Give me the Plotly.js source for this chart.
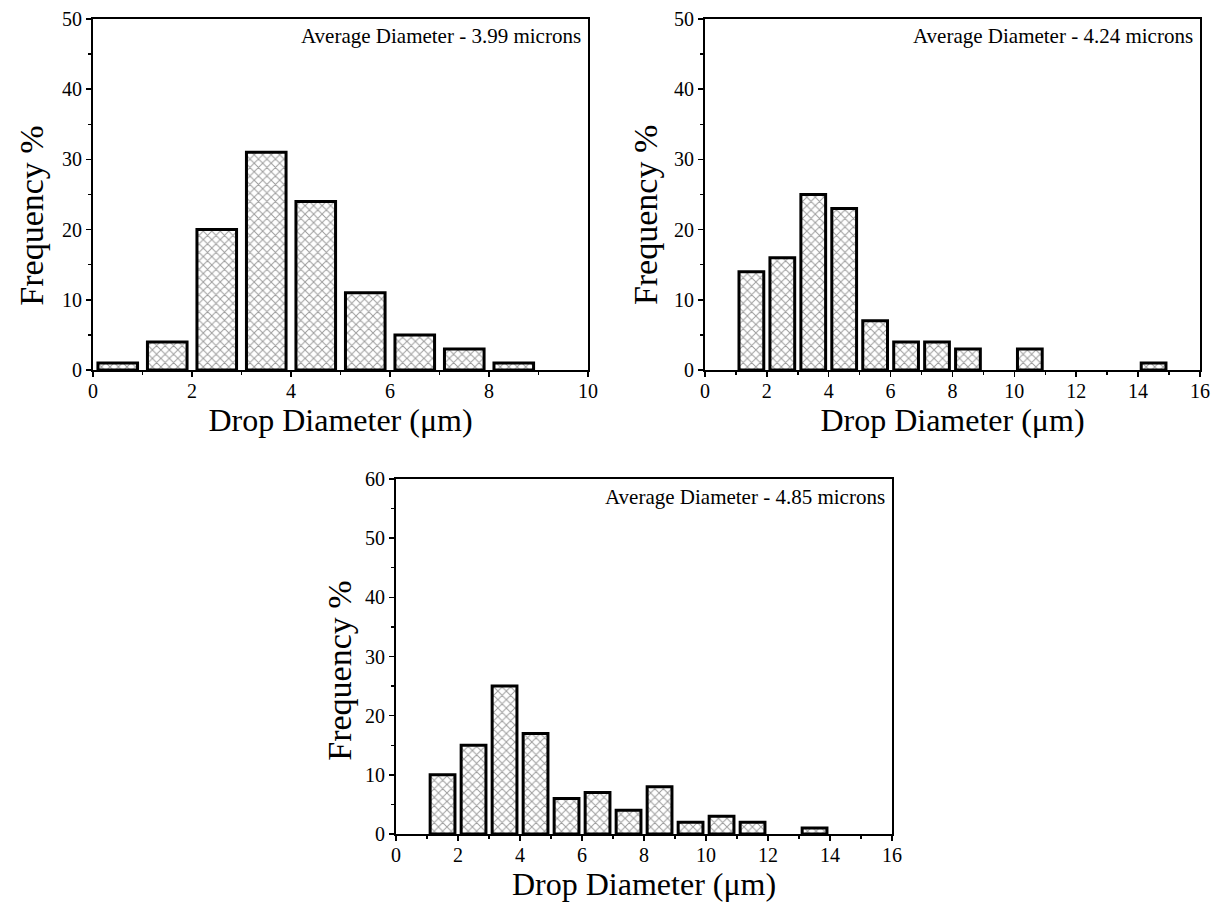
<!DOCTYPE html>
<html>
<head>
<meta charset="utf-8">
<script src="https://cdn.plot.ly/plotly-3.0.1.min.js"></script>
<style>html,body{margin:0;padding:0;background:#fff;}#chart{width:1222px;height:912px;}</style>
</head>
<body>
<div id="chart"></div>
<script>
// Panel A (top-left)
const binsA = [0.5, 1.5, 2.5, 3.5, 4.5, 5.5, 6.5, 7.5, 8.5];
const freqA = [1, 4, 20, 31, 24, 11, 5, 3, 1];
const labelA = "Average Diameter - 3.99 microns";
// Panel B (top-right)
const binsB = [1.5, 2.5, 3.5, 4.5, 5.5, 6.5, 7.5, 8.5, 10.5, 14.5];
const freqB = [14, 16, 25, 23, 7, 4, 4, 3, 3, 1];
const labelB = "Average Diameter - 4.24 microns";
// Panel C (bottom)
const binsC = [1.5, 2.5, 3.5, 4.5, 5.5, 6.5, 7.5, 8.5, 9.5, 10.5, 11.5, 13.5];
const freqC = [10, 15, 25, 17, 6, 7, 4, 8, 2, 3, 2, 1];
const labelC = "Average Diameter - 4.85 microns";

const xTitle = "Drop Diameter (μm)";
const yTitle = "Frequency %";

const FONT = "Liberation Serif, Times New Roman, serif";

function barTrace(x, y, xa, ya) {
  return {
    type: 'bar', x: x, y: y, xaxis: xa, yaxis: ya, width: 0.8,
    marker: {
      color: '#ffffff',
      line: {color: '#000', width: 3},
      pattern: {shape: 'x', fgcolor: '#3a3a3a', bgcolor: '#fff', size: 6, solidity: 0.3, fillmode: 'overlay'}
    },
    showlegend: false, hoverinfo: 'x+y'
  };
}

function xAxis(domain, range, anchor) {
  return {
    domain: domain, range: range, anchor: anchor,
    dtick: 2, tick0: 0, ticks: 'outside', ticklen: 5, tickwidth: 1.5, tickcolor: '#000',
    minor: {dtick: 1, ticks: 'outside', ticklen: 3, tickwidth: 1.5, tickcolor: '#000'},
    showline: true, linewidth: 2, linecolor: '#000', mirror: true,
    showgrid: false, zeroline: false, ticklabelstandoff: -3,
    tickfont: {family: FONT, size: 20, color: '#000'},
    title: {text: xTitle, font: {family: FONT, size: 32, color: '#000'}, standoff: 6}
  };
}
function yAxis(domain, range, anchor) {
  return {
    domain: domain, range: range, anchor: anchor,
    dtick: 10, tick0: 0, ticks: 'outside', ticklen: 5, tickwidth: 1.5, tickcolor: '#000',
    minor: {dtick: 5, ticks: 'outside', ticklen: 3, tickwidth: 1.5, tickcolor: '#000'},
    showline: true, linewidth: 2, linecolor: '#000', mirror: true,
    showgrid: false, zeroline: false,
    tickfont: {family: FONT, size: 20, color: '#000'}
  };
}

const data = [
  barTrace(binsA, freqA, 'x', 'y'),
  barTrace(binsB, freqB, 'x2', 'y2'),
  barTrace(binsC, freqC, 'x3', 'y3')
];

function note(text, xref, yref) {
  return {text: text, xref: xref + ' domain', yref: yref + ' domain', x: 0.99, y: 0.99,
    xanchor: 'right', yanchor: 'top', showarrow: false,
    font: {family: FONT, size: 21, color: '#000'}};
}
function ytitle(xref, yref, xpos, ypos) {
  return {text: yTitle, xref: xref + ' domain', yref: yref + ' domain', x: xpos, y: ypos,
    xanchor: 'center', yanchor: 'middle', textangle: -90, showarrow: false,
    font: {family: FONT, size: 34, color: '#000'}};
}

const layout = {
  width: 1222, height: 912,
  margin: {l: 0, r: 0, t: 0, b: 0},
  paper_bgcolor: '#fff', plot_bgcolor: '#fff',
  bargap: 0,
  xaxis: xAxis([0.0761, 0.4812], [0, 10], 'y'),
  yaxis: yAxis([0.5943, 0.9792], [0, 50], 'x'),
  xaxis2: xAxis([0.5769, 0.9820], [0, 16], 'y2'),
  yaxis2: yAxis([0.5943, 0.9792], [0, 50], 'x2'),
  xaxis3: xAxis([0.3241, 0.7300], [0, 16], 'y3'),
  yaxis3: yAxis([0.0855, 0.4748], [0, 60], 'x3'),
  annotations: [
    note(labelA, 'x', 'y'), note(labelB, 'x2', 'y2'), note(labelC, 'x3', 'y3'),
    ytitle('x', 'y', -0.125, 0.44), ytitle('x2', 'y2', -0.12, 0.44), ytitle('x3', 'y3', -0.113, 0.46)
  ]
};

Plotly.newPlot('chart', data, layout, {displayModeBar: false, staticPlot: true});
</script>
</body>
</html>
